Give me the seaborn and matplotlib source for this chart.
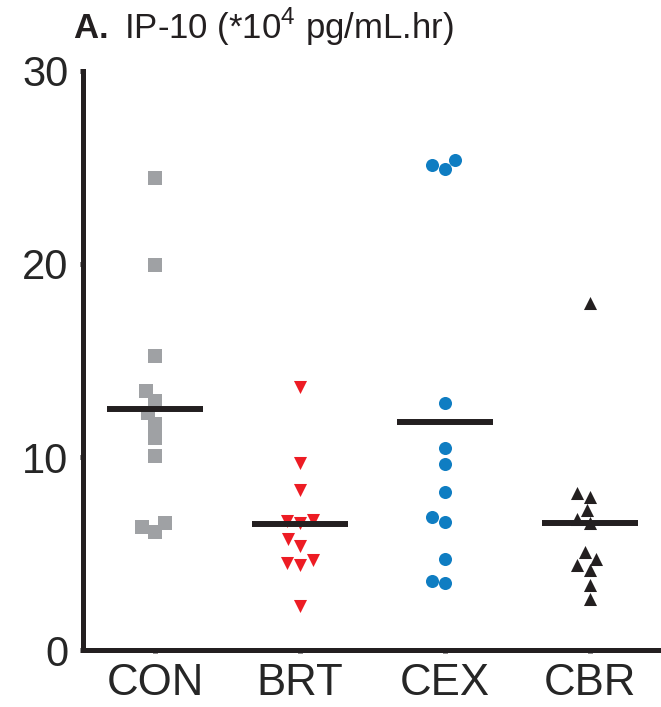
import pandas as pd
import seaborn as sns
import matplotlib.pyplot as plt

groups = ["CON", "BRT", "CEX", "CBR"]

con = [24.45, 19.97, 15.24, 13.41, 12.9, 12.26, 11.69, 11.0, 10.03, 6.57, 6.1, 6.35]
brt = [13.64, 9.67, 8.29, 6.71, 6.57, 6.74, 5.74, 5.41, 4.53, 4.41, 4.67, 2.26]
cex = [25.37, 24.92, 25.14, 12.78, 10.45, 9.64, 8.17, 6.88, 6.62, 4.72, 3.47, 3.59]
cbr = [17.97, 8.16, 7.94, 7.23, 6.78, 6.57, 5.1, 4.74, 4.38, 4.14, 3.36, 2.65]

colors = ["#9FA1A4", "#ED1C24", "#0F7DC2", "#231F20"]
markers = ["s", "v", "o", "^"]

df = pd.DataFrame({
    "group": ["CON"] * len(con) + ["BRT"] * len(brt) + ["CEX"] * len(cex) + ["CBR"] * len(cbr),
    "value": con + brt + cex + cbr,
})

sns.set_style("ticks")
plt.rcParams["font.family"] = ["Liberation Sans", "DejaVu Sans"]
plt.rcParams["mathtext.fontset"] = "custom"
plt.rcParams["mathtext.rm"] = "Liberation Sans"
plt.rcParams["mathtext.bf"] = "Liberation Sans:bold"

fig = plt.figure(figsize=(6.61, 7.07), dpi=100)
ax = fig.add_axes([0.1256, 0.0806, 0.8744, 0.819])

for g, mk, col in zip(groups, markers, colors):
    sns.swarmplot(
        data=df[df["group"] == g], x="group", y="value", order=groups,
        marker=mk, color=col, size=9.4, linewidth=0, ax=ax,
    )

means = df.groupby("group")["value"].mean().reindex(groups)
ax.hlines(means.values, [i - 0.33 for i in range(len(groups))],
          [i + 0.33 for i in range(len(groups))], color="#231F20", lw=4.3, zorder=5)

ax.set_xlim(-0.497, 3.49)
ax.set_ylim(0, 30)
ax.set_yticks([0, 10, 20, 30])
ax.set_xlabel("")
ax.set_ylabel("")
sns.despine(ax=ax, right=True, top=True)
for s in ["left", "bottom"]:
    ax.spines[s].set_linewidth(3.6)
    ax.spines[s].set_color("#231F20")
ax.spines["left"].set_bounds(0, 30)
ax.tick_params(axis="y", length=2.5, width=3.6, color="#231F20", labelsize=30, pad=8)
ax.tick_params(axis="x", length=2.5, width=3.6, color="#231F20", labelsize=31.5, pad=7)

fig.text(0.110, 0.945, r"$\mathbf{A.}$ IP-10 (*10$^{4}$ pg/mL.hr)",
         fontsize=25, ha="left", va="baseline", color="#231F20")

plt.savefig("out.png", dpi=100)
